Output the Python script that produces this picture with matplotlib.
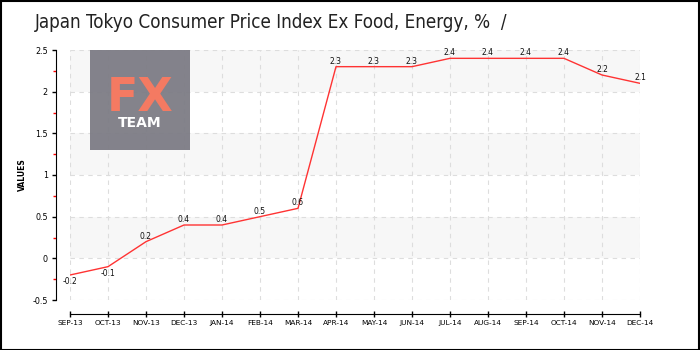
import matplotlib
matplotlib.use('Agg')
import matplotlib.pyplot as plt
from matplotlib.patches import Rectangle
import numpy as np

MONTHS = ['SEP-13', 'OCT-13', 'NOV-13', 'DEC-13', 'JAN-14', 'FEB-14', 'MAR-14', 'APR-14',
          'MAY-14', 'JUN-14', 'JUL-14', 'AUG-14', 'SEP-14', 'OCT-14', 'NOV-14', 'DEC-14']
VALUES = [-0.2, -0.1, 0.2, 0.4, 0.4, 0.5, 0.6, 2.3,
          2.3, 2.3, 2.4, 2.4, 2.4, 2.4, 2.2, 2.1]
Y_TICKS = [-0.5, 0, 0.5, 1, 1.5, 2, 2.5]
TITLE = 'Japan Tokyo Consumer Price Index Ex Food, Energy, %  /'


def fmt(v):
    return f'{v:g}'


def main():
    fig = plt.figure(figsize=(7, 3.5), dpi=100)
    ax = fig.add_axes([70 / 700, 50 / 350, 570 / 700, 250 / 350])

    x = np.arange(len(MONTHS))
    ax.set_xlim(0, len(MONTHS) - 1)
    ax.set_ylim(Y_TICKS[0], Y_TICKS[-1])

    # alternating background bands
    for lo, hi in zip(Y_TICKS[1::2], Y_TICKS[2::2]):
        ax.axhspan(lo, hi, color='#f7f7f7', zorder=0, lw=0)

    ax.grid(True, color='#dddddd', linestyle=(0, (4, 4)), linewidth=0.8, zorder=1)
    ax.set_axisbelow(True)

    ax.plot(x, VALUES, '-', color='#ff3333', linewidth=1.0, zorder=3)
    for xi, v in zip(x, VALUES):
        off = -5 if v < 0 else 4
        ax.annotate(fmt(v), (xi, v), xytext=(0, off), textcoords='offset points',
                    ha='center', va='center', fontsize=5.5, color='#111111')

    ax.set_xticks(x)
    ax.set_xticklabels(MONTHS)
    ax.set_yticks(Y_TICKS)
    ax.set_yticklabels([fmt(v) for v in Y_TICKS])
    ax.set_yticks(np.arange(-0.25, 2.5, 0.5), minor=True)
    ax.tick_params(axis='y', which='minor', length=2, color='#ff0000', width=1)
    ax.tick_params(axis='y', which='major', length=3, width=1, pad=3, labelsize=5.8)
    ax.tick_params(axis='x', which='major', direction='inout', length=5, width=1,
                   pad=2, labelsize=5.3)
    for lbl in ax.get_xticklabels():
        lbl.set_fontweight('bold')

    for side in ('top', 'right'):
        ax.spines[side].set_visible(False)
    ax.spines['left'].set_position(('outward', 10))
    ax.spines['bottom'].set_position(('outward', 10))
    ax.set_ylabel('VALUES', fontsize=5.5, fontweight='bold', labelpad=4)

    fig.text(35 / 700, 1 - 22 / 350, TITLE, fontsize=13.5, color='#222222',
             fontstretch='condensed', va='center', ha='left')

    # FX TEAM logo
    fig.patches.append(Rectangle((90 / 700, 1 - 150 / 350), 100 / 700, 100 / 350,
                                 transform=fig.transFigure, facecolor='#7d7c85',
                                 alpha=0.95, edgecolor='none', zorder=5))
    fig.text(140 / 700, 1 - 111 / 350, 'FX', fontsize=33, color='#f47a62',
             fontweight='bold', ha='center', va='baseline', zorder=6)
    fig.text(140 / 700, 1 - 123 / 350, 'TEAM', fontsize=10, color='white',
             fontweight='bold', ha='center', va='center', zorder=6)

    # figure border
    fig.patches.append(Rectangle((0.5 / 700, 0.5 / 350), 698.5 / 700, 348.5 / 350,
                                 transform=fig.transFigure, facecolor='none',
                                 edgecolor='black', linewidth=1.5, zorder=10))

    fig.savefig('out.png', dpi=100)
    plt.close(fig)


if __name__ == '__main__':
    main()
